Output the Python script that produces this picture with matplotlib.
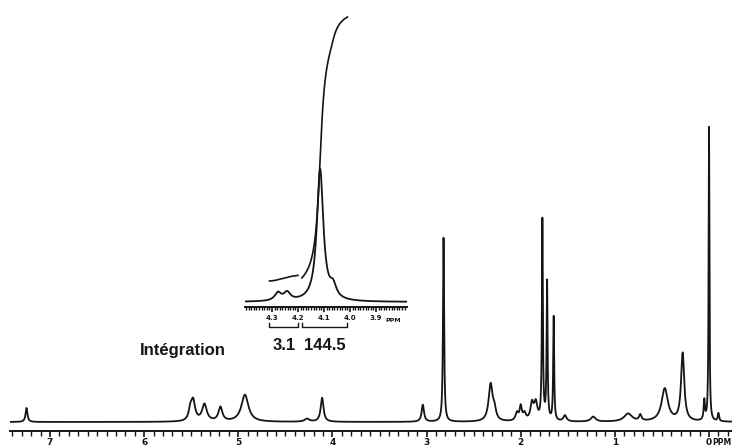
import matplotlib.pyplot as plt
import numpy as np
from matplotlib.ticker import MultipleLocator

# main 1H spectrum: peak shift (ppm), height (px above baseline), half width (ppm)
shifts = [7.25, 5.51, 5.48, 5.36, 5.19, 4.93, 4.27, 4.11, 3.04, 2.82, 2.32, 2.28,
          2.04, 2.00, 1.96, 1.88, 1.84, 1.77, 1.72, 1.65, 1.53, 1.23, 0.86, 0.73,
          0.47, 0.28, 0.05, 0.00, -0.10]
heights = [14, 10, 20, 17, 14, 27, 3, 24, 17, 184, 37, 10,
           8, 14, 7, 17, 17, 200, 138, 104, 6, 5, 8, 6,
           33, 68, 20, 294, 8]
widths = [0.012, 0.02, 0.025, 0.03, 0.025, 0.045, 0.03, 0.018, 0.015, 0.007, 0.025, 0.02,
          0.018, 0.014, 0.018, 0.02, 0.02, 0.006, 0.006, 0.006, 0.02, 0.03, 0.05, 0.015,
          0.04, 0.02, 0.008, 0.005, 0.008]

main_ticks = [7, 6, 5, 4, 3, 2, 1, 0]
main_labels = ['7', '6', '5', '4', '3', '2', '1', '0']

# expanded region 4.4 - 3.8 ppm
inset_shifts = [4.277, 4.242, 4.115, 4.065]
inset_heights = [8, 8, 132, 12]
inset_widths = [0.015, 0.015, 0.015, 0.015]

inset_ticks = [4.3, 4.2, 4.1, 4.0, 3.9]
inset_labels = ['4.3', '4.2', '4.1', '4.0', '3.9']

# integration ranges (ppm) and values
integ_ranges = [(4.31, 4.20), (4.185, 4.01)]
integ_values = [3.1, 144.5]

W, H = 732, 448
INK = '#151515'


def rect(x0, y0, x1, y1):
    return [x0 / W, 1 - y1 / H, (x1 - x0) / W, (y1 - y0) / H]


def lorentz(x, pos, hts, wds):
    y = np.zeros_like(x)
    for p, h, w in zip(pos, hts, wds):
        y += h * w ** 2 / ((x - p) ** 2 + w ** 2)
    return y


def ruler(ax, major, minor, labels, size, majlen, minlen, pad):
    for s in ['left', 'right', 'top']:
        ax.spines[s].set_visible(False)
    ax.spines['bottom'].set_linewidth(1.4)
    ax.spines['bottom'].set_color(INK)
    ax.set_yticks([])
    ax.set_xticks(major)
    ax.set_xticklabels(labels, fontsize=size, fontweight='bold', color=INK)
    ax.xaxis.set_minor_locator(MultipleLocator(minor))
    ax.tick_params(axis='x', which='major', direction='out', length=majlen, width=1.2,
                   color=INK, pad=pad)
    ax.tick_params(axis='x', which='minor', direction='out', length=minlen, width=1.0,
                   color=INK)
    ax.set_facecolor('none')


fig = plt.figure(figsize=(7.32, 4.48), dpi=100)

# main spectrum
ax = fig.add_axes(rect(10, 0, 732, 431))
x0, x1 = (709 - 10) / 94.14, (709 - 732) / 94.14
ppm = np.linspace(x0, x1, 40000)
ax.plot(ppm, lorentz(ppm, shifts, heights, widths), color=INK, lw=1.3)
ax.set_xlim(x0, x1)
ax.set_ylim(-9, 422)
ruler(ax, main_ticks, 0.1, main_labels, 6.5, 4.5, 3.3, 0.8)
fig.text(712 / W, 1 - 442 / H, 'PPM', ha='left', va='center', fontsize=5.5,
         fontweight='bold', color=INK)

# expanded inset
ax2 = fig.add_axes(rect(245, 0, 407, 307))
i0, i1 = 4.3 + 27 / 260, 4.3 - 135 / 260
ppm2 = np.linspace(i0, i1, 4000)
spec2 = lorentz(ppm2, inset_shifts, inset_heights, inset_widths)
ax2.plot(ppm2, spec2, color=INK, lw=1.3)
ax2.set_xlim(i0, i1)
ax2.set_ylim(-5, 302)
ruler(ax2, inset_ticks, 0.01, inset_labels, 5, 3.5, 2.2, 2.0)
fig.text(385 / W, 1 - 320 / H, 'PPM', ha='left', va='center', fontsize=4.5,
         fontweight='bold', color=INK)

# integral traces, each scaled to its integration value
step = abs(ppm2[1] - ppm2[0])
starts = [21, 24]
px_per_unit = 261 / integ_values[1]
for (a, b), val, y_start in zip(integ_ranges, integ_values, starts):
    m = (ppm2 <= a) & (ppm2 >= b)
    cum = np.cumsum(spec2[m]) * step
    ax2.plot(ppm2[m], y_start + cum / cum[-1] * val * px_per_unit, color=INK, lw=1.2)

# integration brackets and labels
for (a, b), val in zip(integ_ranges, integ_values):
    ax2.plot([a, a, b, b], [-21, -25, -25, -21], color=INK, lw=1.0, clip_on=False)
    ax2.text((a + b) / 2, -43, str(val), ha='center', va='center', fontsize=12,
             fontweight='bold', color=INK, family='Liberation Sans', clip_on=False)
fig.text(140 / W, 1 - 350 / H, 'Intégration', ha='left', va='center', fontsize=12,
         fontweight='bold', color=INK, family='Liberation Sans')

fig.savefig('out.png', dpi=100)
